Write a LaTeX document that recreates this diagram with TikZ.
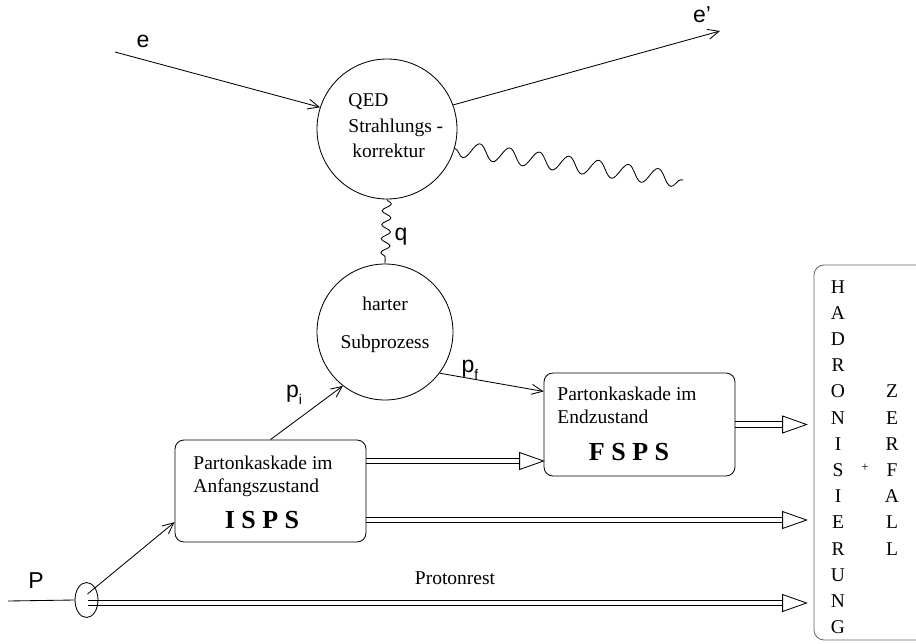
\documentclass[tikz,border=0pt]{standalone}
\usepackage{fontspec}
\setmainfont{Liberation Serif}
\setsansfont{Liberation Sans}
\usetikzlibrary{shapes.geometric,arrows.meta,calc,decorations.pathmorphing}
\newcommand\dblarr[2]{%
  \draw ($(#1)+(0,-2.6)$) -- ($(#2)+(-24,-2.6)$);
  \draw ($(#1)+(0,2.6)$) -- ($(#2)+(-24,2.6)$);
  \draw[fill=white] (#2) -- ($(#2)+(-24,-8.5)$) -- ($(#2)+(-24,8.5)$) -- cycle;}
\begin{document}
\begin{tikzpicture}[x=1pt,y=-1pt,line width=0.85pt,
  circ/.style={draw,circle,inner sep=0pt},
  cbox/.style={draw,rectangle,rounded corners=9pt,inner sep=0pt},
  txt/.style={inner sep=0pt,anchor=base west,font=\fontsize{19.5}{22}\selectfont},
  ctxt/.style={inner sep=0pt,anchor=base,font=\fontsize{19.5}{22}\selectfont},
  big/.style={inner sep=0pt,anchor=base,font=\fontsize{26}{30}\selectfont\bfseries},
  lab/.style={inner sep=0pt,anchor=base,font=\fontsize{23}{26}\selectfont\sffamily},
  arr/.style={-{Straight Barb[length=11pt,width=10pt]}},
  photon/.style={decorate,decoration={snake,amplitude=8pt,segment length=30pt,mirror}},
  qphoton/.style={decorate,decoration={snake,amplitude=4.5pt,segment length=14pt}}]
\useasboundingbox (0,0) rectangle (916,643);

% main nodes
\node[circ,minimum size=140pt] (qed) at (387,129) {};
\node[circ,minimum size=136pt] (hard) at (385,332) {};
\node[cbox,minimum width=191pt,minimum height=102pt] (isps) at (270.5,491) {};
\node[cbox,minimum width=191pt,minimum height=103pt] (fsps) at (639.5,424.5) {};
\node[draw=black!60,rectangle,rounded corners=10pt,minimum width=140pt,minimum height=375pt,inner sep=0pt] (had) at (884,452.5) {};
\node[draw,ellipse,minimum width=23pt,minimum height=35pt,inner sep=0pt] (ell) at (86.5,600) {};

% texts
\node[txt] (t1) at (348,106) {QED};
\node[txt] (t2) at (348,132) {Strahlungs -};
\node[txt] (t3) at (352,157) {korrektur};
\node[ctxt] (t4) at (385,310) {harter};
\node[ctxt] (t5) at (385,348) {Subprozess};
\node[txt] (t6) at (193,469) {Partonkaskade im};
\node[txt] (t7) at (193,492) {Anfangszustand};
\node[big] (t8) at (262,528) {I S P S};
\node[txt] (t9) at (557,400) {Partonkaskade im};
\node[txt] (t10) at (557,423) {Endzustand};
\node[big] (t11) at (629,460) {F S P S};
\node[ctxt] (t12) at (455,584) {Protonrest};

\foreach \l [count=\k from 0] in {H,A,D,R,O,N,I,S,I,E,R,U,N,G}
  \node[ctxt] (h\k) at (838,{293+26.2*\k}) {\l};
\foreach \l [count=\k from 4] in {Z,E,R,F,A,L,L}
  \node[ctxt] (z\k) at (892,{293+26.2*\k}) {\l};
\node[inner sep=0pt,font=\fontsize{13}{13}\selectfont] (plus) at (865,468) {+};

% labels
\node[lab] (le) at (143,47) {e};
\node[lab] (lep) at (702,22) {e'};
\node[lab] (lq) at (401,240) {q};
\node[lab] (lP) at (36,588) {P};
\node[lab] (lpi) at (294,397) {p\raisebox{-7pt}{\fontsize{14}{14}\selectfont i}};
\node[lab] (lpf) at (470,372) {p\raisebox{-7pt}{\fontsize{14}{14}\selectfont f}};

% coordinates
\coordinate (eS) at (115,52);
\coordinate (epE) at (720,31);
\coordinate (phE) at (683,180);
\coordinate (pS) at (8,601);

% connectors
\draw[arr] (eS) -- (qed.162);
\draw[arr] (qed.20) -- (epE);
\draw[photon] (qed.-16) -- (phE);
\draw[qphoton] (qed.south) -- (hard.north);
\draw[arr] (isps.north) -- (hard.232);
\draw[arr] (hard.-37) -- (fsps.161);
\draw (pS) -- (ell.west);
\draw[arr] ($(ell.center)+(1,-6)$) -- (isps.198);

\coordinate (a1s) at ($(isps.east)+(0,-30)$);
\coordinate (a1e) at (fsps.west |- a1s);
\coordinate (a2s) at (fsps.east);
\coordinate (a2e) at ($(had.west |- a2s)+(-7,0)$);
\coordinate (a3s) at ($(isps.east)+(0,29)$);
\coordinate (a3e) at ($(had.west |- a3s)+(-7,0)$);
\coordinate (a4s) at ($(ell.center)+(1,3)$);
\coordinate (a4e) at ($(had.west |- a4s)+(-7,0)$);
\dblarr{a1s}{a1e}
\dblarr{a2s}{a2e}
\dblarr{a3s}{a3e}
\dblarr{a4s}{a4e}
\end{tikzpicture}
\end{document}
